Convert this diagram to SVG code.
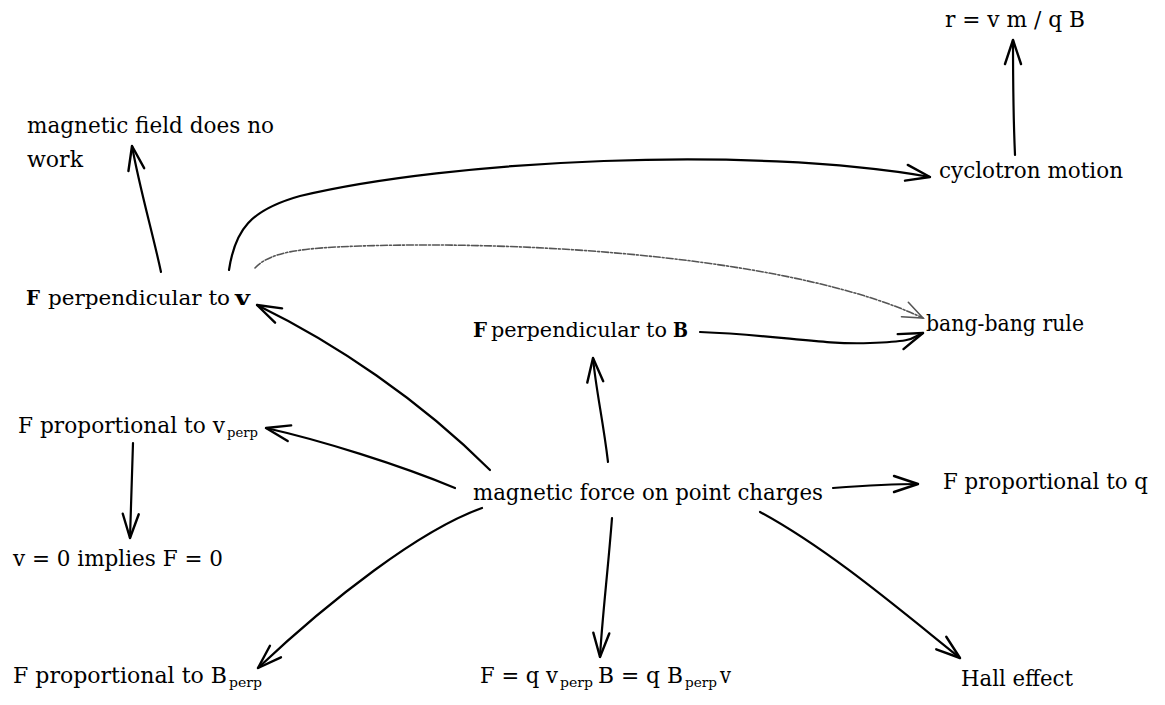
<svg xmlns="http://www.w3.org/2000/svg" width="1165" height="705" viewBox="0 0 1165 705">
<style>
text{font-family:'DejaVu Serif','Liberation Serif',serif;font-size:21.5px;fill:#000}
.sub{font-size:13.5px}
.b{font-weight:bold}
.sm{font-size:20.5px}
.c{fill:none;stroke:#000;stroke-width:2.2;stroke-linecap:round}
.d{fill:none;stroke:#555;stroke-width:1.6;stroke-dasharray:7 2 2 2;stroke-linecap:round}
</style>
<defs>
<marker id="ah" markerUnits="userSpaceOnUse" markerWidth="40" markerHeight="40" viewBox="-30 -20 40 40" refX="0" refY="0" orient="auto" overflow="visible">
<path d="M -24 -8 L 0 0 L -24 8" fill="none" stroke="#000" stroke-width="2.4" stroke-linecap="round" stroke-linejoin="round"/>
</marker>
<marker id="ahd" markerUnits="userSpaceOnUse" markerWidth="40" markerHeight="40" viewBox="-30 -20 40 40" refX="0" refY="0" orient="auto" overflow="visible">
<path d="M -20 -8 L 0 0 L -20 8" fill="none" stroke="#555" stroke-width="1.6" stroke-linecap="round"/>
</marker>
</defs>
<g id="connectors">
<path class="c" d="M 1015 155 C 1013 110, 1013 70, 1013 40" marker-end="url(#ah)"/>
<path class="c" d="M 161 272 C 152 230, 140 190, 132 146" marker-end="url(#ah)"/>
<path class="c" d="M 229 270 C 235 230, 250 210, 300 196 C 450 160, 750 145, 930 177" marker-end="url(#ah)"/>
<path class="d" d="M 255 268 C 270 252, 300 248, 360 246 C 550 240, 800 260, 923 318" marker-end="url(#ahd)"/>
<path class="c" d="M 700 332 C 780 335, 820 345, 870 343 S 910 338, 923 333" marker-end="url(#ah)"/>
<path class="c" d="M 490 470 C 420 400, 335 343, 257 305" marker-end="url(#ah)"/>
<path class="c" d="M 608 462 C 603 420, 596 390, 593 358" marker-end="url(#ah)"/>
<path class="c" d="M 455 488 C 400 465, 320 440, 266 428" marker-end="url(#ah)"/>
<path class="c" d="M 133 443 L 130 538" marker-end="url(#ah)"/>
<path class="c" d="M 482 508 C 420 530, 330 600, 258 668" marker-end="url(#ah)"/>
<path class="c" d="M 612 518 C 608 570, 602 620, 600 657" marker-end="url(#ah)"/>
<path class="c" d="M 833 488 C 860 486, 890 484, 918 484" marker-end="url(#ah)"/>
<path class="c" d="M 760 512 C 830 550, 900 610, 960 658" marker-end="url(#ah)"/>
</g>
<g id="n-r"><text x="945" y="27" textLength="140" lengthAdjust="spacingAndGlyphs">r = v m / q B</text></g>
<g id="n-cyclotron"><text x="939" y="178" textLength="184" lengthAdjust="spacingAndGlyphs">cyclotron motion</text></g>
<g id="n-nowork"><text x="27" y="133" textLength="247" lengthAdjust="spacingAndGlyphs">magnetic field does no</text><text x="27" y="167" textLength="56" lengthAdjust="spacingAndGlyphs">work</text></g>
<g id="n-perpv"><text class="sm b" x="26" y="305" textLength="14" lengthAdjust="spacingAndGlyphs">F</text><text class="sm" x="48" y="305" textLength="182" lengthAdjust="spacingAndGlyphs">perpendicular to</text><text class="sm b" x="235" y="305" textLength="15" lengthAdjust="spacingAndGlyphs">v</text></g>
<g id="n-perpB"><text class="sm b" x="473" y="337" textLength="14" lengthAdjust="spacingAndGlyphs">F</text><text class="sm" x="491" y="337" textLength="176" lengthAdjust="spacingAndGlyphs">perpendicular to</text><text class="sm b" x="673" y="337" textLength="15" lengthAdjust="spacingAndGlyphs">B</text></g>
<g id="n-bang"><text x="926" y="331" textLength="158" lengthAdjust="spacingAndGlyphs">bang-bang rule</text></g>
<g id="n-propv"><text x="18" y="433" textLength="207" lengthAdjust="spacingAndGlyphs">F proportional to v</text><text class="sub" x="227" y="437" textLength="31" lengthAdjust="spacingAndGlyphs">perp</text></g>
<g id="n-v0"><text x="13" y="566" textLength="210" lengthAdjust="spacingAndGlyphs">v = 0 implies F = 0</text></g>
<g id="n-main"><text x="473" y="500" textLength="350" lengthAdjust="spacingAndGlyphs">magnetic force on point charges</text></g>
<g id="n-propq"><text x="943" y="489" textLength="205" lengthAdjust="spacingAndGlyphs">F proportional to q</text></g>
<g id="n-propB"><text x="13" y="683" textLength="214" lengthAdjust="spacingAndGlyphs">F proportional to B</text><text class="sub" x="229" y="687" textLength="33" lengthAdjust="spacingAndGlyphs">perp</text></g>
<g id="n-formula"><text x="480" y="683" textLength="78" lengthAdjust="spacingAndGlyphs">F = q v</text><text class="sub" x="560" y="687" textLength="33" lengthAdjust="spacingAndGlyphs">perp</text><text x="598" y="683" textLength="85" lengthAdjust="spacingAndGlyphs">B = q B</text><text class="sub" x="685" y="687" textLength="32" lengthAdjust="spacingAndGlyphs">perp</text><text x="720" y="683" textLength="11" lengthAdjust="spacingAndGlyphs">v</text></g>
<g id="n-hall"><text x="961" y="686" textLength="112" lengthAdjust="spacingAndGlyphs">Hall effect</text></g>
</svg>
